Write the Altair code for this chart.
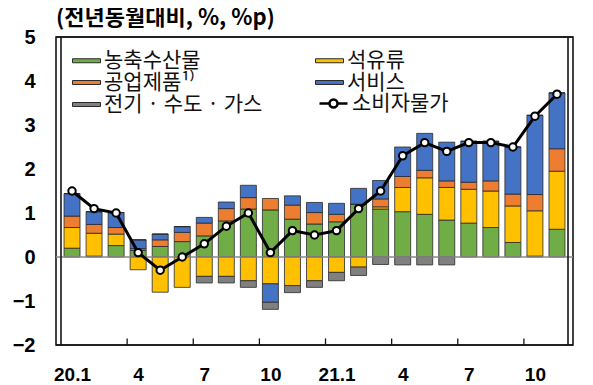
import altair as alt
import pandas as pd

months = ["20.1", "20.2", "20.3", "20.4", "20.5", "20.6", "20.7", "20.8", "20.9", "20.10", "20.11", "20.12",
          "21.1", "21.2", "21.3", "21.4", "21.5", "21.6", "21.7", "21.8", "21.9", "21.10", "21.11"]
tick_labels = ["20.1", "4", "7", "10", "21.1", "4", "7", "10"]

# stacking order (bottom to top)
series = ["농축수산물", "석유류", "공업제품¹⁾", "서비스", "전기 · 수도 · 가스"]
colors = ["#70ad47", "#ffc000", "#ed7d31", "#4472c4", "#808080"]
# legend order (column-major in a 2-column grid)
legend_order = ["농축수산물", "공업제품¹⁾", "전기 · 수도 · 가스", "석유류", "서비스"]

agri = [0.20, 0.02, 0.26, 0.15, 0.24, 0.35, 0.48, 0.82, 1.09, 1.07, 0.86, 0.75,
        0.80, 1.20, 1.09, 1.03, 0.97, 0.84, 0.77, 0.67, 0.33, 0.02, 0.63]
oil = [0.47, 0.52, 0.26, -0.29, -0.80, -0.69, -0.44, -0.44, -0.54, -0.61, -0.65, -0.54,
       -0.35, -0.23, 0.05, 0.55, 0.83, 0.74, 0.77, 0.83, 0.83, 1.03, 1.32]
ind = [0.26, 0.20, 0.15, 0.04, 0.15, 0.21, 0.29, 0.28, 0.26, 0.26, 0.32, 0.26,
       0.17, 0.00, 0.18, 0.25, 0.17, 0.15, 0.16, 0.23, 0.27, 0.37, 0.51]
serv = [0.51, 0.29, 0.34, 0.20, 0.13, 0.13, 0.13, 0.15, 0.28, -0.42, 0.21, 0.23,
        0.25, 0.36, 0.42, 0.67, 0.84, 0.88, 0.93, 0.90, 1.07, 1.80, 1.27]
util = [0.0, 0.0, 0.0, 0.0, 0.0, 0.0, -0.15, -0.15, -0.15, -0.16, -0.16, -0.15,
        -0.19, -0.19, -0.17, -0.18, -0.18, -0.18, 0.0, 0.0, 0.0, 0.0, 0.0]
cpi = [1.5, 1.1, 1.0, 0.1, -0.3, 0.0, 0.3, 0.7, 1.0, 0.1, 0.6, 0.5,
       0.6, 1.1, 1.5, 2.3, 2.6, 2.4, 2.6, 2.6, 2.5, 3.2, 3.7]
cpi_name = "소비자물가"
title_text = "(전년동월대비, %, %p)"

rows = []
for i, m in enumerate(months):
    for k, (name, vals) in enumerate(zip(series, [agri, oil, ind, serv, util])):
        rows.append({"idx": i, "month": m, "series": name, "ord": k, "value": vals[i]})
bars_df = pd.DataFrame(rows)
cpi_df = pd.DataFrame({"idx": list(range(len(months))), "cpi": cpi, "name": cpi_name})

n = len(months)
label_arr = [tick_labels[i // 3] if i % 3 == 0 else "" for i in range(n)]
label_expr = "[" + ",".join("'" + s + "'" for s in label_arr) + "][datum.value]"
label_vals = list(range(0, n, 3))
tick_df = pd.DataFrame({"pos": [i - 0.5 for i in range(3, n, 3)]})

KR = "Noto Sans CJK KR"
NUM = "Liberation Sans"
INK = "#141414"
FRAME_W = 1.6
x_dom = [-0.5, n - 0.5]
y_dom = [-2, 5]
tick_len = 0.15  # inward tick length in y units
one = pd.DataFrame({"k": [0]})

xscale = alt.Scale(domain=x_dom, nice=False, zero=False)
yscale = alt.Scale(domain=y_dom, nice=False)

rect_path = "M-1.4,-0.2H1.4V0.2H-1.4Z"
line_path = "M-1.4,0H-0.4M0.4,0H1.4M-0.4,0A0.4,0.4,0,1,1,0.4,0A0.4,0.4,0,1,1,-0.4,0"

bars = alt.Chart(bars_df).mark_bar(width=16, stroke="#2a2a2a", strokeWidth=0.8, orient="vertical").encode(
    x=alt.X("idx:Q", scale=xscale, title=None,
            axis=alt.Axis(orient="bottom", values=label_vals, labelExpr=label_expr, ticks=False,
                          domain=False, grid=False,
                          labelFont=NUM, labelFontSize=19,
                          labelFontWeight="bold", labelColor="black", labelPadding=20)),
    y=alt.Y("value:Q", stack="zero", scale=yscale, title=None,
            axis=alt.Axis(orient="left", values=[-2, -1, 0, 1, 2, 3, 4, 5], ticks=False,
                          domain=False, grid=False,
                          labelFont=NUM, labelFontSize=20, labelFontWeight="bold",
                          labelColor="black", labelPadding=21)),
    color=alt.Color("series:N", sort=legend_order,
                    scale=alt.Scale(domain=series, range=colors),
                    legend=alt.Legend(orient="none", legendX=20, legendY=13, columns=2,
                                      columnPadding=50, rowPadding=0, title=None, padding=0,
                                      values=legend_order,
                                      symbolType=rect_path, symbolSize=400, symbolStrokeColor="#2a2a2a",
                                      symbolStrokeWidth=1, symbolOpacity=1, labelOffset=7,
                                      labelFont=KR, labelFontSize=21, labelColor="#111",
                                      labelLimit=300)),
    order=alt.Order("ord:Q"),
)

zero = alt.Chart(one).mark_rule(stroke="#8a8a8a", strokeWidth=1.5).encode(
    y=alt.YDatum(0, scale=yscale, axis=None)
)

# plot frame: four rules at the ends of the scale domains
frame_left = alt.Chart(one).mark_rule(stroke=INK, strokeWidth=FRAME_W).encode(
    x=alt.XDatum(x_dom[0], scale=xscale, axis=None))
frame_right = alt.Chart(one).mark_rule(stroke=INK, strokeWidth=FRAME_W).encode(
    x=alt.XDatum(x_dom[1], scale=xscale, axis=None))
frame_top = alt.Chart(one).mark_rule(stroke=INK, strokeWidth=FRAME_W).encode(
    y=alt.YDatum(y_dom[1], scale=yscale, axis=None))
frame_bottom = alt.Chart(one).mark_rule(stroke=INK, strokeWidth=FRAME_W).encode(
    y=alt.YDatum(y_dom[0], scale=yscale, axis=None))

# inward x ticks at quarter boundaries
ticks = alt.Chart(tick_df).mark_rule(stroke=INK, strokeWidth=1.3).encode(
    x=alt.X("pos:Q", scale=xscale, axis=None),
    y=alt.YDatum(y_dom[0], scale=yscale, axis=None),
    y2=alt.Y2Datum(y_dom[0] + tick_len),
)

line = alt.Chart(cpi_df).mark_line(strokeWidth=3).encode(
    x=alt.X("idx:Q", scale=xscale, axis=None),
    y=alt.Y("cpi:Q", scale=yscale, axis=None),
    stroke=alt.Stroke("name:N", scale=alt.Scale(range=["black"]),
                      legend=alt.Legend(orient="none", legendX=266, legendY=55, title=None, padding=0,
                                        symbolType=line_path, symbolSize=400, symbolStrokeWidth=2.5,
                                        symbolFillColor="white", labelOffset=7,
                                        labelFont=KR, labelFontSize=21, labelColor="#111")),
)

points = alt.Chart(cpi_df).mark_point(filled=True, fill="white", stroke="black", strokeWidth=2,
                                      size=55, opacity=1).encode(
    x=alt.X("idx:Q", scale=xscale, axis=None),
    y=alt.Y("cpi:Q", scale=yscale, axis=None),
)

chart = alt.layer(bars, zero, ticks, frame_left, frame_right, frame_top, frame_bottom, line, points).resolve_axis(
    x="independent", y="independent").properties(
    width=517, height=308,
    autosize=alt.AutoSizeParams(type="none"),
    padding={"left": 48, "top": 29, "right": 12, "bottom": 40},
    title=alt.TitleParams(title_text, anchor="start", fontSize=22, fontWeight="bold",
                          font=KR, color="black", offset=-3, frame="group"),
).configure_view(stroke=INK, strokeWidth=FRAME_W)

chart.save("out.html", embed_options={"renderer": "svg", "actions": False})
